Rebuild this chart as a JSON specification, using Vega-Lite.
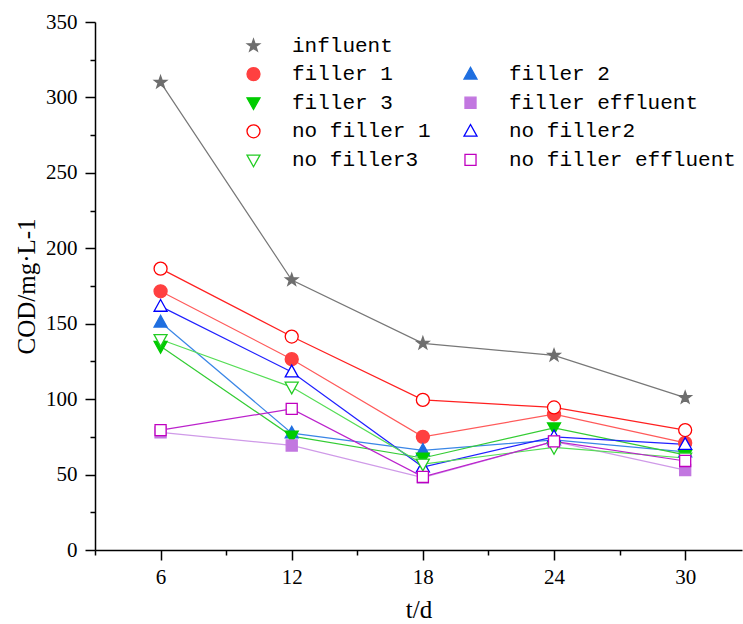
{
  "$schema": "https://vega.github.io/schema/vega-lite/v6.json",
  "width": 647,
  "height": 528,
  "autosize": {"type": "none"},
  "padding": {"left": 95, "top": 22, "right": 1, "bottom": 74},
  "background": "white",
  "config": {"view": {"stroke": null}, "font": "Liberation Serif"},
  "data": {"values": [
    {"t": 6, "series": "influent", "cod": 310},
    {"t": 12, "series": "influent", "cod": 179},
    {"t": 18, "series": "influent", "cod": 137},
    {"t": 24, "series": "influent", "cod": 129},
    {"t": 30, "series": "influent", "cod": 101},
    {"t": 6, "series": "filler 1", "cod": 171.5},
    {"t": 12, "series": "filler 1", "cod": 126.5},
    {"t": 18, "series": "filler 1", "cod": 75},
    {"t": 24, "series": "filler 1", "cod": 90},
    {"t": 30, "series": "filler 1", "cod": 71},
    {"t": 6, "series": "filler 2", "cod": 151},
    {"t": 12, "series": "filler 2", "cod": 77.5},
    {"t": 18, "series": "filler 2", "cod": 66},
    {"t": 24, "series": "filler 2", "cod": 73},
    {"t": 30, "series": "filler 2", "cod": 65},
    {"t": 6, "series": "filler 3", "cod": 135},
    {"t": 12, "series": "filler 3", "cod": 75.5},
    {"t": 18, "series": "filler 3", "cod": 61},
    {"t": 24, "series": "filler 3", "cod": 81},
    {"t": 30, "series": "filler 3", "cod": 63},
    {"t": 6, "series": "filler effluent", "cod": 78},
    {"t": 12, "series": "filler effluent", "cod": 69.3},
    {"t": 18, "series": "filler effluent", "cod": 48},
    {"t": 24, "series": "filler effluent", "cod": 72},
    {"t": 30, "series": "filler effluent", "cod": 53},
    {"t": 6, "series": "no filler 1", "cod": 186.5},
    {"t": 12, "series": "no filler 1", "cod": 141.5},
    {"t": 18, "series": "no filler 1", "cod": 99.5},
    {"t": 24, "series": "no filler 1", "cod": 94.5},
    {"t": 30, "series": "no filler 1", "cod": 79.5},
    {"t": 6, "series": "no filler2", "cod": 161.5},
    {"t": 12, "series": "no filler2", "cod": 118},
    {"t": 18, "series": "no filler2", "cod": 55},
    {"t": 24, "series": "no filler2", "cod": 75},
    {"t": 30, "series": "no filler2", "cod": 70},
    {"t": 6, "series": "no filler3", "cod": 139.5},
    {"t": 12, "series": "no filler3", "cod": 108},
    {"t": 18, "series": "no filler3", "cod": 57},
    {"t": 24, "series": "no filler3", "cod": 68},
    {"t": 30, "series": "no filler3", "cod": 61},
    {"t": 6, "series": "no filler effluent", "cod": 79.5},
    {"t": 12, "series": "no filler effluent", "cod": 93.5},
    {"t": 18, "series": "no filler effluent", "cod": 48.5},
    {"t": 24, "series": "no filler effluent", "cod": 72},
    {"t": 30, "series": "no filler effluent", "cod": 59}
  ]},
  "encoding": {
    "x": {
      "field": "t", "type": "quantitative",
      "scale": {"domain": [3, 32.6], "nice": false, "zero": false},
      "axis": {
        "values": [3, 6, 9, 12, 15, 18, 21, 24, 27, 30],
        "labelExpr": "datum.value % 6 === 0 ? datum.label : ''",
        "tickSize": {"condition": {"test": "datum.value % 6 === 0", "value": 10}, "value": 5},
        "grid": false, "domainColor": "black", "tickColor": "black", "domainWidth": 1.5, "tickWidth": 1.5,
        "labelFont": "Liberation Serif", "labelFontSize": 21, "labelColor": "black", "labelPadding": 6, "labelFlush": false,
        "title": "t/d", "titleFont": "Liberation Serif", "titleFontSize": 25, "titleFontWeight": "normal", "titleColor": "black", "titlePadding": 10
      }
    },
    "y": {
      "field": "cod", "type": "quantitative",
      "scale": {"domain": [0, 350], "nice": false},
      "axis": {
        "values": [0, 25, 50, 75, 100, 125, 150, 175, 200, 225, 250, 275, 300, 325, 350],
        "labelExpr": "datum.value % 50 === 0 ? datum.label : ''",
        "tickSize": {"condition": {"test": "datum.value % 50 === 0", "value": 10}, "value": 5},
        "grid": false, "domainColor": "black", "tickColor": "black", "domainWidth": 1.5, "tickWidth": 1.5,
        "labelFont": "Liberation Serif", "labelFontSize": 21, "labelColor": "black", "labelPadding": 8, "labelFlush": false,
        "title": "COD/mg·L-1", "titleFont": "Liberation Serif", "titleFontSize": 25, "titleFontWeight": "normal", "titleColor": "black", "titlePadding": 6
      }
    }
  },
  "layer": [
    {
      "mark": {"type": "line", "strokeWidth": 1.2},
      "encoding": {
        "color": {
          "field": "series", "type": "nominal",
          "scale": {
            "domain": ["influent", "filler 1", "filler 2", "filler 3", "filler effluent", "no filler 1", "no filler2", "no filler3", "no filler effluent"],
            "range": ["#777777", "#ff5a5a", "#3a86e6", "#33cc33", "#cf9ae8", "#ff2020", "#2020ff", "#55dd55", "#bb22cc"]
          },
          "legend": null
        }
      }
    },
    {
      "mark": {"type": "point", "filled": true, "opacity": 1, "size": 169, "strokeWidth": 1.3},
      "encoding": {
        "stroke": {
          "field": "series", "type": "nominal",
          "scale": {
            "domain": ["influent", "filler 1", "filler 3", "no filler 1", "no filler3", " ", "filler 2", "filler effluent", "no filler2", "no filler effluent"],
            "range": ["#6e6e6e", "#ff4040", "#00cc00", "#ff0000", "#22cc22", "transparent", "#1f6fe0", "#c277e0", "#0000ff", "#c000c0"]
          },
          "legend": {
            "orient": "none", "legendX": 129, "legendY": 13, "columns": 2, "title": null,
            "labelFont": "Liberation Mono", "labelFontSize": 21, "labelColor": "black", "labelLimit": 400,
            "symbolSize": 169, "symbolStrokeWidth": 1.3, "symbolOpacity": 1, "symbolOffset": 19, "labelOffset": 28,
            "rowPadding": 6.6, "columnPadding": 10, "padding": 0
          }
        },
        "fill": {
          "field": "series", "type": "nominal",
          "scale": {
            "domain": ["influent", "filler 1", "filler 3", "no filler 1", "no filler3", " ", "filler 2", "filler effluent", "no filler2", "no filler effluent"],
            "range": ["#6e6e6e", "#ff4040", "#00cc00", "white", "white", "transparent", "#1f6fe0", "#c277e0", "white", "white"]
          }
        },
        "shape": {
          "field": "series", "type": "nominal",
          "scale": {
            "domain": ["influent", "filler 1", "filler 3", "no filler 1", "no filler3", " ", "filler 2", "filler effluent", "no filler2", "no filler effluent"],
            "range": [
              "M0,-1L0.235,-0.324L0.951,-0.309L0.38,0.124L0.588,0.809L0,0.4L-0.588,0.809L-0.38,0.124L-0.951,-0.309L-0.235,-0.324Z",
              "M1,0A1,1,0,1,1,-1,0A1,1,0,1,1,1,0Z",
              "M0,1.05L1,-0.75L-1,-0.75Z",
              "M1,0A1,1,0,1,1,-1,0A1,1,0,1,1,1,0Z",
              "M0,1.05L1,-0.75L-1,-0.75Z",
              "M0,0",
              "M0,-1.05L1,0.75L-1,0.75Z",
              "M-0.85,-0.85H0.85V0.85H-0.85Z",
              "M0,-1.05L1,0.75L-1,0.75Z",
              "M-0.85,-0.85H0.85V0.85H-0.85Z"
            ]
          }
        }
      }
    }
  ]
}
